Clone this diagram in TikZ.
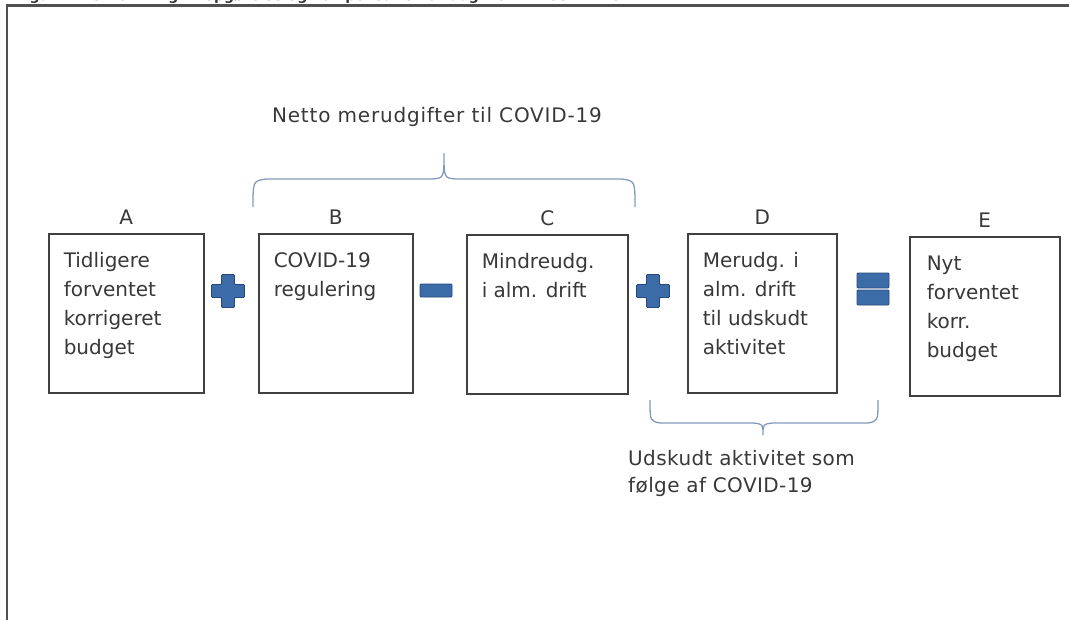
\documentclass[tikz,border=0pt]{standalone}
\usepackage{fontspec}
\setmainfont{DejaVu Sans}
\usepackage{xcolor}
\usepackage{tikz}
\usetikzlibrary{positioning,calc}

\definecolor{txt}{HTML}{383838}
\definecolor{boxcol}{HTML}{404040}
\definecolor{framecol}{HTML}{505050}
\definecolor{opblue}{HTML}{3C6CA8}
\definecolor{opedge}{HTML}{27487C}
\definecolor{bracecol}{HTML}{8399BA}

\newcommand{\boxtxt}[2]{\parbox[t][121pt][t]{#1}{#2}}

\begin{document}
\begin{tikzpicture}[
  x=1pt, y=-1pt,
  box/.style={rectangle, draw=boxcol, line width=1.5pt, anchor=north west,
    inner xsep=15pt, inner ysep=19pt, text=txt, font=\fontsize{20}{29}\selectfont},
  letter/.style={font=\fontsize{20}{24}\selectfont, text=txt, inner sep=2pt},
  sign/.style={fill=opblue, draw=opedge, line width=0.8pt, rounded corners=1pt},
  brace/.style={draw=bracecol, line width=1.3pt},
  note/.style={font=\fontsize{20}{27}\selectfont, text=txt, align=left, inner sep=0pt}
]
\useasboundingbox (0,0) rectangle (1069,619);

% Title (cut off at the top)
\begin{scope}
  \clip (0,0) rectangle (1069,619);
  \node[anchor=base west, font=\bfseries\fontsize{14}{16}\selectfont, text=txt, inner sep=0pt]
    (title) at (15,0.5) {Figur 1. Forventning til opgørelse og kompensation af udgifter ift. COVID-19};
\end{scope}

% Frame
\draw[framecol, line width=2.5pt] (7,640) -- (7,5.5) -- (1090,5.5);

% Boxes
\node[box] (A) at (48,233) {\boxtxt{125pt}{Tidligere\\forventet\\korrigeret\\budget}};
\node[box] (B) at (258,233) {\boxtxt{124pt}{COVID-19\\regulering}};
\node[box] (C) at (466,234) {\boxtxt{131pt}{Mindreudg.\\i alm. drift}};
\node[box] (D) at (687,233) {\boxtxt{119pt}{Merudg. i\\alm. drift\\til udskudt\\aktivitet}};
\node[box, inner xsep=17pt] (E) at (909,236) {\boxtxt{116pt}{Nyt\\forventet\\korr.\\budget}};

% Letters
\node[letter, above=6pt of A] (lA) {A};
\node[letter, above=6pt of B] (lB) {B};
\node[letter, above=6pt of C] (lC) {C};
\node[letter, above=6pt of D] (lD) {D};
\node[letter, above=6pt of E] (lE) {E};

% Plus
\begin{scope}[shift={(228,291)}]
  \draw[sign] (-6.5,-16.5) -- (6.5,-16.5) -- (6.5,-6.5) -- (16.5,-6.5) -- (16.5,6.5) -- (6.5,6.5) -- (6.5,16.5)
    -- (-6.5,16.5) -- (-6.5,6.5) -- (-16.5,6.5) -- (-16.5,-6.5) -- (-6.5,-6.5) -- cycle;
\end{scope}

% Minus
\begin{scope}[shift={(436,290.5)}]
  \draw[sign] (-16,-6.5) rectangle (16,6.5);
\end{scope}

% Plus
\begin{scope}[shift={(653,291)}]
  \draw[sign] (-6.5,-16.5) -- (6.5,-16.5) -- (6.5,-6.5) -- (16.5,-6.5) -- (16.5,6.5) -- (6.5,6.5) -- (6.5,16.5)
    -- (-6.5,16.5) -- (-6.5,6.5) -- (-16.5,6.5) -- (-16.5,-6.5) -- (-6.5,-6.5) -- cycle;
\end{scope}

% Equals
\begin{scope}[shift={(873,289)}]
  \draw[sign] (-16,-16) rectangle (16,-1);
  \draw[sign] (-16,1) rectangle (16,16);
\end{scope}

% Brace over B and C
\draw[brace] (253,207) .. controls (253,181) .. (266,179) -- (432,179)
  .. controls (444,178) .. (444,153) .. controls (444,178) .. (456,179)
  -- (622,179) .. controls (635,181) .. (635,207);
\node[note, anchor=base, font=\fontsize{20}{27}\selectfont\addfontfeature{LetterSpace=4}]
  (net) at (437,122) {Netto merudgifter til COVID-19};

% Brace under D
\draw[brace] (650,400) .. controls (650,421) .. (660,423) -- (753,423)
  .. controls (763,424) .. (763,435) .. controls (763,424) .. (773,423)
  -- (868,423) .. controls (878,421) .. (878,400);
\node[note, anchor=north west, font=\fontsize{20}{27}\selectfont\addfontfeature{LetterSpace=2}]
  (udsk) at (628,450) {Udskudt aktivitet som\\følge af COVID-19};

\end{tikzpicture}
\end{document}
